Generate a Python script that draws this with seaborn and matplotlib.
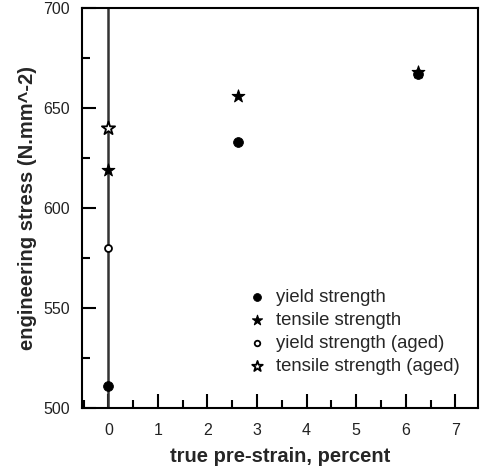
import matplotlib
matplotlib.use("Agg")
import matplotlib.pyplot as plt
from matplotlib.ticker import MultipleLocator
import seaborn as sns

# data
yield_x = [0.0, 2.62, 6.25]
yield_y = [511, 633, 667]
tensile_x = [0.0, 2.62, 6.25]
tensile_y = [619, 656, 668]
yield_aged_x = [0.0]
yield_aged_y = [580]
tensile_aged_x = [0.0]
tensile_aged_y = [640]

sns.set_style("ticks")
plt.rcParams["font.family"] = ["Liberation Sans", "DejaVu Sans"]

fig = plt.figure(figsize=(4.8, 4.72), dpi=100)
ax = fig.add_axes([0.171, 0.1356, 0.825, 0.848])

ax.axvline(0, color="#333333", lw=1.8, zorder=1)

sns.scatterplot(x=yield_x, y=yield_y, marker="o", s=50, color="black",
                edgecolor="black", label="yield strength", ax=ax, zorder=3)
sns.scatterplot(x=tensile_x, y=tensile_y, marker="*", s=90, color="black",
                edgecolor="black", linewidth=0.8, label="tensile strength", ax=ax, zorder=3)
sns.scatterplot(x=yield_aged_x, y=yield_aged_y, marker="o", s=25, color="white",
                edgecolor="black", linewidth=1.3, label="yield strength (aged)", ax=ax, zorder=3)
sns.scatterplot(x=tensile_aged_x, y=tensile_aged_y, marker="*", s=100, color="white",
                edgecolor="black", linewidth=1.3, label="tensile strength (aged)", ax=ax, zorder=3)

ax.set_xlim(-0.53, 7.46)
ax.set_ylim(500, 700)
ax.xaxis.set_major_locator(MultipleLocator(1))
ax.xaxis.set_minor_locator(MultipleLocator(0.5))
ax.yaxis.set_major_locator(MultipleLocator(50))
ax.yaxis.set_minor_locator(MultipleLocator(25))
ax.tick_params(which="both", direction="in", width=1.5, colors="black",
               labelsize=11.5, labelcolor="#222222", top=False, right=False)
ax.tick_params(axis="x", which="major", length=10, pad=11)
ax.tick_params(axis="x", which="minor", length=6)
ax.tick_params(axis="y", which="major", length=10, pad=9)
ax.tick_params(axis="y", which="minor", length=6)
ax.set_yticks([500, 550, 600, 650, 700])
for sp in ax.spines.values():
    sp.set_linewidth(1.5)
    sp.set_color("black")

ax.set_xlabel("true pre-strain, percent", fontsize=14.5, fontweight="bold", labelpad=6)
ax.set_ylabel("engineering stress (N.mm^-2)", fontsize=14.5, fontweight="bold", labelpad=4)

ax.legend(loc="lower left", bbox_to_anchor=(0.40, 0.065), frameon=False,
          fontsize=13.3, handletextpad=0.5, labelspacing=0.32, borderaxespad=0,
          handlelength=1.0, markerscale=0.8)

fig.savefig("out.png", dpi=100)
